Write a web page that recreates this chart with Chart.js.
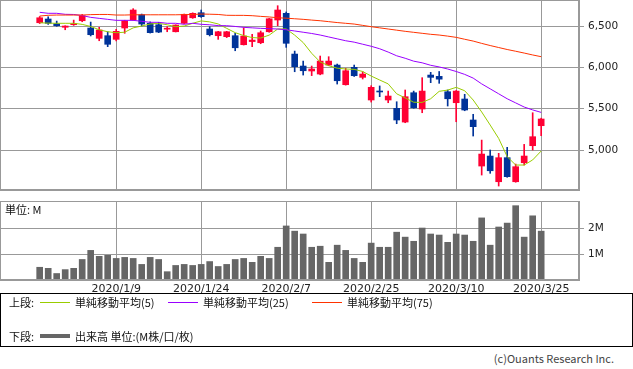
<!DOCTYPE html>
<html>
<head>
<meta charset="utf-8">
<script src="https://cdn.jsdelivr.net/npm/chart.js@4.4.0/dist/chart.umd.min.js"></script>
<style>
  body { margin: 0; background: #fff; width: 633px; height: 369px; overflow: hidden; position: relative;
         font-family: "Noto Sans CJK JP", "DejaVu Sans", sans-serif; color: #111; }
  canvas { position: absolute; left: 0; display: block; }
  #price { top: 0; }
  #vol { top: 200px; }
  .t { position: absolute; font-size: 11px; line-height: 12px; white-space: nowrap; }
  .ln { position: absolute; height: 1px; width: 30px; }
  #legend { position: absolute; left: 0; top: 293px; width: 631px; height: 52px; border: 1px solid #000; }
</style>
</head>
<body>
<canvas id="price" width="633" height="191"></canvas>
<canvas id="vol" width="633" height="95"></canvas>
<div class="t" style="left:5px;top:203px;">単位: M</div>

<div id="legend"></div>
<div class="t" style="left:9px;top:296px;">上段:</div>
<div class="ln" style="left:40px;top:302px;background:#99cc00;"></div>
<div class="t" style="left:75px;top:296px;">単純移動平均(5)</div>
<div class="ln" style="left:168px;top:302px;background:#9900ff;"></div>
<div class="t" style="left:203px;top:296px;">単純移動平均(25)</div>
<div class="ln" style="left:312px;top:302px;background:#ff3300;"></div>
<div class="t" style="left:347px;top:296px;">単純移動平均(75)</div>
<div class="t" style="left:9px;top:330px;">下段:</div>
<div class="ln" style="left:40px;top:334px;height:4px;background:#666;"></div>
<div class="t" style="left:75px;top:330px;">出来高 単位:(M株/口/枚)</div>
<div class="t" style="right:19px;top:352px;color:#444;">(c)Ouants Research Inc.</div>

<script>
// candles, Dec 23 2019 .. Mar 25 2020
const opens  = [6540,6585,6528,6485,6516,6564,6476,6351,6383,6339,
                6476,6573,6637,6533,6516,6462,6431,6533,6600,6661,
                6464,6383,6371,6383,6274,6312,6298,6431,6573,6654,
                6161,6016,5956,5919,6028,6028,5790,6000,5879,5605,
                5708,5605,5504,5338,5693,5496,5907,5891,5705,5572,
                5617,5363,4806,4927,4616,4907,4616,4846,5052,5294];
const closes = [6600,6533,6504,6500,6528,6625,6395,6452,6279,6436,
                6564,6694,6524,6420,6427,6466,6512,6642,6654,6613,
                6395,6431,6431,6237,6379,6330,6419,6588,6694,6291,
                6008,5959,5980,6076,6076,5838,5959,5899,5919,5758,
                5702,5653,5363,5645,5511,5713,5879,5857,5620,5713,
                5484,5282,4951,4749,4907,4677,4798,4927,5161,5375];
const highs  = [6615,6612,6560,6503,6572,6640,6548,6484,6431,6460,
                6570,6710,6645,6550,6545,6492,6515,6645,6660,6694,
                6492,6436,6436,6412,6480,6400,6440,6592,6746,6670,
                6197,6076,6016,6137,6129,6040,5988,6028,5947,5778,
                5775,5713,5584,5726,5713,5875,5940,5950,5726,5720,
                5674,5432,5120,5000,4960,5032,4830,5068,5451,5385];
const lows   = [6530,6520,6497,6455,6508,6552,6380,6322,6250,6320,
                6412,6570,6500,6415,6420,6431,6428,6530,6593,6605,
                6380,6339,6360,6201,6270,6250,6286,6425,6504,6242,
                5947,5907,5900,5910,6020,5798,5785,5890,5859,5580,
                5645,5572,5318,5330,5505,5451,5815,5807,5532,5342,
                5475,5169,4697,4718,4564,4670,4610,4818,5000,5173];

// volume, millions
const volumes = [0.49,0.45,0.25,0.40,0.45,0.79,1.14,0.91,0.95,0.83,
                 0.87,0.83,0.60,0.87,0.79,0.32,0.56,0.60,0.56,0.60,
                 0.71,0.52,0.60,0.79,0.83,0.68,0.91,0.83,1.26,2.08,
                 1.88,1.77,1.26,1.30,0.68,1.34,1.14,0.83,0.68,1.42,
                 1.26,1.26,1.84,1.65,1.49,2.00,1.77,1.73,1.45,1.77,
                 1.73,1.49,2.39,1.34,2.04,2.19,2.86,1.65,2.47,1.88];

// moving averages
const ma5  = [6540,6535,6533,6533,6533,6520,6495,6455,6431,6419,
              6425,6478,6500,6525,6533,6515,6492,6500,6533,6562,
              6550,6525,6472,6420,6385,6360,6355,6390,6464,6465,
              6390,6300,6170,6065,6020,5990,5980,5976,5950,5895,
              5847,5800,5680,5630,5578,5576,5620,5710,5725,5758,
              5717,5605,5460,5302,5140,4920,4818,4818,4880,4988];
const ma25 = [6666,6654,6654,6642,6640,6627,6605,6593,6581,6569,
              6569,6569,6557,6545,6545,6533,6533,6521,6533,6521,
              6515,6505,6504,6495,6484,6478,6472,6468,6464,6455,
              6440,6425,6410,6391,6368,6345,6322,6305,6280,6255,
              6225,6185,6140,6110,6075,6055,6025,6005,5980,5950,
              5915,5870,5800,5740,5680,5620,5570,5520,5485,5455];
const ma75 = [6621,6630,6633,6633,6633,6633,6638,6640,6640,6633,
              6633,6636,6636,6636,6636,6636,6636,6638,6640,6645,
              6643,6640,6630,6629,6629,6625,6617,6610,6600,6595,
              6588,6581,6572,6564,6553,6542,6533,6524,6508,6492,
              6478,6464,6450,6436,6424,6412,6400,6391,6378,6363,
              6340,6318,6290,6264,6240,6216,6195,6173,6150,6129];

const tickIdx = [9, 19, 29, 39, 49, 59];
const tickLabels = ['2020/1/9', '2020/1/24', '2020/2/7', '2020/2/25', '2020/3/10', '2020/3/25'];
const priceTicks = [5000, 5500, 6000, 6500];
const volTicks = [1, 2];

const xMin = -4.67, xMax = 63.45;
const gridColor = '#999999';
const upColor = '#ff0033', downColor = '#003399';

const idx = opens.map((_, i) => i);
const candleColors = idx.map(i => closes[i] >= opens[i] ? upColor : downColor);

// box round the plot area
const frame = {
  id: 'frame',
  afterDraw(chart) {
    const {ctx, chartArea: a} = chart;
    ctx.save();
    ctx.strokeStyle = gridColor;
    ctx.lineWidth = 1;
    ctx.strokeRect(a.left + 0.5, a.top + 0.5, a.right - a.left - 1, a.bottom - a.top - 1);
    ctx.restore();
  }
};

const xAxis = (showLabels, h) => ({
  type: 'linear', min: xMin, max: xMax, offset: false,
  grid: {color: gridColor, drawTicks: false, offset: false},
  border: {color: gridColor},
  ticks: {
    display: showLabels, autoSkip: false, maxRotation: 0, padding: 3,
    color: '#222', font: {family: 'DejaVu Sans', size: 11},
    callback: (v, i) => tickLabels[i]
  },
  afterBuildTicks: s => { s.ticks = tickIdx.map(v => ({value: v})); },
  afterFit: s => { s.height = h; s.paddingLeft = 0; s.paddingRight = 0; }
});

const yAxis = (min, max, ticks, fmt) => ({
  position: 'right', min: min, max: max,
  grid: {color: gridColor, tickLength: 5},
  border: {color: gridColor},
  ticks: {color: '#222', padding: 4, font: {family: 'DejaVu Sans', size: 10.5}, callback: fmt},
  afterBuildTicks: s => { s.ticks = ticks.map(v => ({value: v})); },
  afterFit: s => { s.width = 54; s.paddingTop = 0; s.paddingBottom = 0; }
});

const line = (data, color) => ({
  type: 'line', data: idx.map(i => ({x: i, y: data[i]})),
  borderColor: color, borderWidth: 1, pointRadius: 0, tension: 0, order: 0
});

new Chart(document.getElementById('price'), {
  type: 'bar',
  data: {
    datasets: [
      line(ma75, '#ff3300'),
      line(ma25, '#9900ff'),
      line(ma5, '#99cc00'),
      { data: idx.map(i => ({x: i, y: [lows[i], highs[i]]})), backgroundColor: candleColors,
        barThickness: 1, grouped: false, order: 2 },
      { data: idx.map(i => ({x: i, y: [opens[i], closes[i]]})), backgroundColor: candleColors,
        barThickness: 6, minBarLength: 1, grouped: false, order: 1 }
    ]
  },
  options: {
    responsive: false, animation: false,
    layout: {padding: 0},
    plugins: {legend: {display: false}, tooltip: {enabled: false}},
    scales: {
      x: xAxis(false, 1),
      y: yAxis(4516, 6815, priceTicks, v => v.toLocaleString('en-US'))
    }
  },
  plugins: [frame]
});

new Chart(document.getElementById('vol'), {
  type: 'bar',
  data: {
    datasets: [
      { data: idx.map(i => ({x: i, y: volumes[i]})), backgroundColor: '#666666', barThickness: 6 }
    ]
  },
  options: {
    responsive: false, animation: false,
    layout: {padding: {top: 1}},
    plugins: {legend: {display: false}, tooltip: {enabled: false}},
    scales: {
      x: xAxis(true, 15),
      y: yAxis(0, 3.04, volTicks, v => v + 'M')
    }
  },
  plugins: [frame]
});
</script>
</body>
</html>
